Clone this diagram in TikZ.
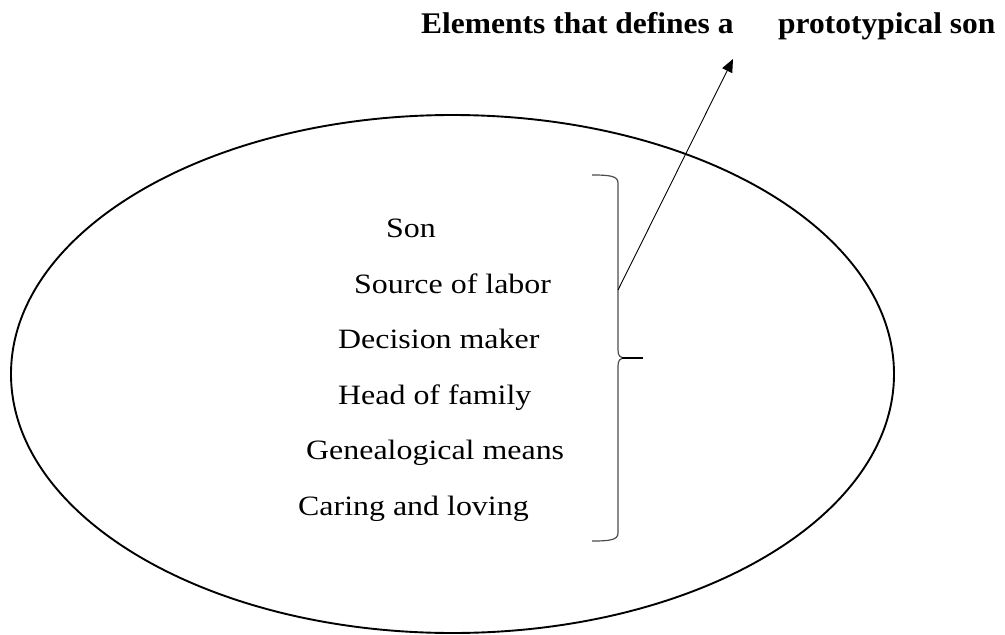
\documentclass[tikz,border=0pt]{standalone}
\usepackage{fontspec}
\setmainfont{Liberation Serif}
\newfontfamily\bodyfont[FakeStretch=1.14]{Liberation Serif}
\newfontfamily\titlefont[FakeStretch=1.05]{Liberation Serif}
\usetikzlibrary{arrows.meta}
\begin{document}
\begin{tikzpicture}[x=1pt,y=-1pt,
  item/.style={anchor=base west,inner sep=0pt,font=\bodyfont\fontsize{28}{30}\selectfont},
  heading/.style={anchor=base west,inner sep=0pt,font=\titlefont\bfseries\fontsize{30}{32}\selectfont},
  bracepath/.style={draw=black!70,line width=1.2pt},
  pointer/.style={draw=black,line width=0.9pt,-{Triangle[length=13pt,width=11pt]}}]
\useasboundingbox (0,0) rectangle (1005,635);
% outer ellipse
\draw[line width=1.9pt] (452.5,374) ellipse [x radius=441.5, y radius=259];
% heading
\node[heading] (t1) at (421,33) {Elements that defines a};
\node[heading] (t2) at (778,33) {prototypical son};
% list of elements
\node[item] (son) at (386,237) {Son};
\node[item] (labor) at (354,293) {Source of labor};
\node[item] (decision) at (338,348) {Decision maker};
\node[item] (head) at (338,404) {Head of family};
\node[item] (genea) at (306,459) {Genealogical means};
\node[item] (caring) at (298,515) {Caring and loving};
% right brace
\draw[bracepath] (592,175) .. controls (610,175) and (618,176) .. (618,183)
  -- (618,350) .. controls (618,356) and (620,358) .. (626,358)
  .. controls (620,358) and (618,360) .. (618,366)
  -- (618,533) .. controls (618,540) and (610,541) .. (592,541);
\draw[line width=1.5pt] (622,358) -- (643,358);
% pointer from brace to heading
\coordinate (foot) at (618,290);
\coordinate (tip) at (733,59);
\draw[pointer] (foot) -- (tip);
\end{tikzpicture}
\end{document}
